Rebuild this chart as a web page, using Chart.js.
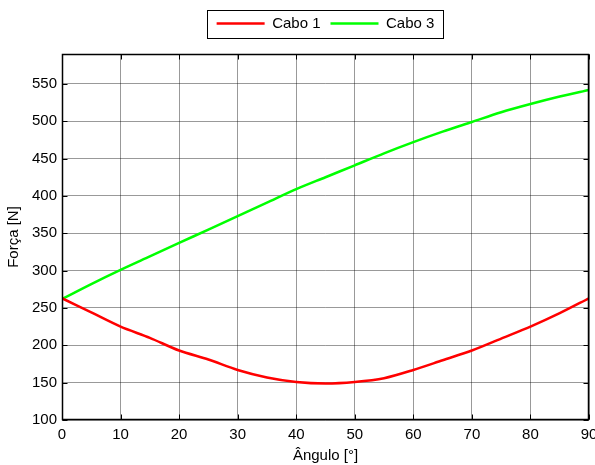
<!DOCTYPE html>
<html><head><meta charset="utf-8">
<script src="https://cdn.jsdelivr.net/npm/chart.js@4.4.0/dist/chart.umd.min.js"></script>
<style>html,body{margin:0;padding:0;background:#fff;overflow:hidden}#wrap{width:595px;height:465px}</style>
</head><body><div id="wrap"><canvas id="c" width="595" height="465"></canvas></div>
<script>
const angles = [0,5,10,15,20,25,30,35,40,45,50,55,60,65,70,75,80,85,90];
const cabo1 = [263,244,225,210,193,181,167,157,151,149,151,156,167,180,193,209,225,243,263];
const cabo3 = [262,282,301,319,337,355,373,391,409,425,441,457,472,486,499,512,523,533,542];
const seriesNames = ['Cabo 1','Cabo 3'];
const xTickValues = [0,10,20,30,40,50,60,70,80,90];
const yTickValues = [100,150,200,250,300,350,400,450,500,550];
const xTitle = 'Ângulo [°]';
const yTitle = 'Força [N]';

const FONT = '"Liberation Sans", Arial, sans-serif';
Chart.defaults.font.family = FONT;
Chart.defaults.font.size = 15;
Chart.defaults.color = '#000';

const toPts = (ys) => ys.map((v, i) => ({x: angles[i], y: v}));

const legendFix = {
  id: 'legendFix',
  beforeLayout(chart) {
    const lg = chart.legend;
    if (lg && !lg._patched) {
      const f = lg.fit.bind(lg);
      lg.fit = function () { f(); this.height += 13; };
      lg._patched = true;
    }
  }
};

const frame = {
  id: 'frame',
  afterDraw(chart) {
    const {ctx, chartArea: a, scales: {x, y}} = chart;
    const L = Math.round(a.left) + 0.5, R = Math.round(a.right) - 0.5;
    const T = Math.round(a.top) + 0.5, B = Math.round(a.bottom) - 0.5;
    ctx.save();
    ctx.strokeStyle = '#000';
    ctx.lineWidth = 1.5;
    ctx.strokeRect(L, T, R - L, B - T);
    ctx.lineWidth = 1;
    ctx.beginPath();
    xTickValues.forEach(v => {
      const px = Math.round(x.getPixelForValue(v)) + 0.5;
      ctx.moveTo(px, B); ctx.lineTo(px, B - 5);
      ctx.moveTo(px, T); ctx.lineTo(px, T + 5);
    });
    yTickValues.forEach(v => {
      const py = Math.round(y.getPixelForValue(v)) + 0.5;
      ctx.moveTo(L, py); ctx.lineTo(L + 5, py);
      ctx.moveTo(R, py); ctx.lineTo(R - 5, py);
    });
    ctx.stroke();
    const hb = chart.legend.legendHitBoxes;
    if (hb && hb.length) {
      const lft = Math.min(...hb.map(h => h.left)) - 10;
      const rgt = Math.max(...hb.map(h => h.left + h.width)) + 8;
      const cy = hb[0].top + hb[0].height / 2;
      ctx.strokeRect(Math.round(lft) + 0.5, Math.round(cy - 14) + 0.5, Math.round(rgt - lft), 28);
    }
    ctx.restore();
  }
};

new Chart(document.getElementById('c'), {
  type: 'line',
  data: {
    datasets: [
      {label: seriesNames[0], data: toPts(cabo1), borderColor: '#ff0000', backgroundColor: '#ff0000', borderWidth: 2.5, pointRadius: 0, tension: 0.3, fill: false},
      {label: seriesNames[1], data: toPts(cabo3), borderColor: '#00ff00', backgroundColor: '#00ff00', borderWidth: 2.5, pointRadius: 0, tension: 0.3, fill: false}
    ]
  },
  options: {
    responsive: false,
    animation: false,
    devicePixelRatio: 1,
    layout: {padding: {top: 0, left: 0, right: 0, bottom: 0}},
    plugins: {
      legend: {
        position: 'top',
        fullSize: false,
        labels: {usePointStyle: true, pointStyle: 'line', pointStyleWidth: 48, padding: 10, font: {size: 15}, color: '#000'}
      },
      tooltip: {enabled: false}
    },
    scales: {
      x: {
        type: 'linear', min: 0, max: 90,
        ticks: {stepSize: 10, padding: 6, maxRotation: 0, font: {size: 15}, color: '#000'},
        afterBuildTicks: s => { s.ticks = xTickValues.map(v => ({value: v})); },
        grid: {color: 'rgba(0,0,0,0.4)', lineWidth: 1, drawTicks: false},
        border: {display: false},
        title: {display: true, text: xTitle, font: {size: 15}, color: '#000', padding: {top: 0, bottom: 0}},
        afterFit: s => { s.height = 45; s.paddingRight = 6; }
      },
      y: {
        type: 'linear', min: 100, max: 590,
        ticks: {stepSize: 50, padding: 5, font: {size: 15}, color: '#000'},
        afterBuildTicks: s => { s.ticks = yTickValues.map(v => ({value: v})); },
        grid: {color: 'rgba(0,0,0,0.4)', lineWidth: 1, drawTicks: false},
        border: {display: false},
        title: {display: true, text: yTitle, font: {size: 15}, color: '#000', padding: {top: 5, bottom: 0}},
        afterFit: s => { s.width = 62; s.paddingTop = 54; }
      }
    }
  },
  plugins: [legendFix, frame]
});
</script>
</body></html>
